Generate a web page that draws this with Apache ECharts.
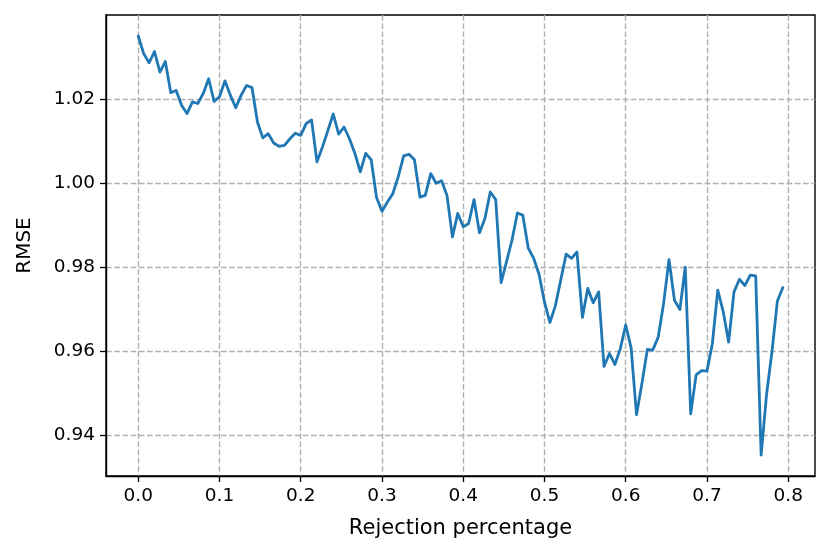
<!DOCTYPE html>
<html><head><meta charset="utf-8">
<script src="https://cdn.jsdelivr.net/npm/echarts@6/dist/echarts.min.js"></script>
<style>html,body{margin:0;padding:0;background:#fff}#c{width:831px;height:556px}</style>
</head><body><div id="c"></div>
<script>
const rejection = [
0.0000,0.0067,0.0133,0.0200,0.0267,0.0333,0.0400,0.0467,0.0533,0.0600,
0.0667,0.0733,0.0800,0.0867,0.0933,0.1000,0.1067,0.1133,0.1200,0.1267,
0.1333,0.1400,0.1467,0.1533,0.1600,0.1667,0.1733,0.1800,0.1867,0.1933,
0.2000,0.2067,0.2133,0.2200,0.2267,0.2333,0.2400,0.2467,0.2533,0.2600,
0.2667,0.2733,0.2800,0.2867,0.2933,0.3000,0.3067,0.3133,0.3200,0.3267,
0.3333,0.3400,0.3467,0.3533,0.3600,0.3667,0.3733,0.3800,0.3867,0.3933,
0.4000,0.4067,0.4133,0.4200,0.4267,0.4333,0.4400,0.4467,0.4533,0.4600,
0.4667,0.4733,0.4800,0.4867,0.4933,0.5000,0.5067,0.5133,0.5200,0.5267,
0.5333,0.5400,0.5467,0.5533,0.5600,0.5667,0.5733,0.5800,0.5867,0.5933,
0.6000,0.6067,0.6133,0.6200,0.6267,0.6333,0.6400,0.6467,0.6533,0.6600,
0.6667,0.6733,0.6800,0.6867,0.6933,0.7000,0.7067,0.7133,0.7200,0.7267,
0.7333,0.7400,0.7467,0.7533,0.7600,0.7667,0.7733,0.7800,0.7867,0.7933
];
const rmse = [
1.0351,1.0309,1.0287,1.0314,1.0265,1.0290,1.0216,1.0221,1.0186,1.0166,
1.0194,1.0190,1.0214,1.0249,1.0195,1.0206,1.0244,1.0210,1.0180,1.0210,
1.0233,1.0228,1.0146,1.0108,1.0118,1.0096,1.0088,1.0090,1.0106,1.0119,
1.0114,1.0142,1.0151,1.0051,1.0086,1.0125,1.0165,1.0117,1.0134,1.0106,
1.0071,1.0027,1.0071,1.0056,0.9966,0.9933,0.9955,0.9975,1.0015,1.0065,
1.0069,1.0056,0.9967,0.9971,1.0023,1.0000,1.0006,0.9971,0.9872,0.9928,
0.9896,0.9904,0.9961,0.9882,0.9916,0.9979,0.9961,0.9763,0.9813,0.9864,
0.9929,0.9924,0.9846,0.9821,0.9783,0.9717,0.9668,0.9707,0.9769,0.9831,
0.9821,0.9836,0.9680,0.9749,0.9715,0.9741,0.9563,0.9594,0.9568,0.9605,
0.9662,0.9607,0.9448,0.9523,0.9604,0.9602,0.9633,0.9714,0.9818,0.9721,
0.9699,0.9800,0.9450,0.9543,0.9553,0.9552,0.9618,0.9745,0.9694,0.9621,
0.9741,0.9771,0.9756,0.9781,0.9779,0.9352,0.9495,0.9598,0.9719,0.9751
];
const xTicks = [0.0,0.1,0.2,0.3,0.4,0.5,0.6,0.7,0.8];
const yTicks = [0.94,0.96,0.98,1.00,1.02];

const data = rejection.map((x,i)=>[x,rmse[i]]);
const font = 'DejaVu Sans';
const chart = echarts.init(document.getElementById('c'), null, {renderer:'canvas'});
chart.setOption({
  animation:false,
  backgroundColor:'#fff',
  grid:{left:106,right:16,top:15,bottom:80,show:true,borderColor:'#000',borderWidth:1.4},
  xAxis:{
    type:'value', min:-0.0397, max:0.833,
    name:'Rejection percentage', nameLocation:'middle', nameGap:42,
    nameTextStyle:{fontFamily:font,fontSize:21,color:'#000'},
    axisLine:{show:true,onZero:false,lineStyle:{color:'#000',width:1.4}},
    axisTick:{show:true,inside:false,length:6,customValues:xTicks,lineStyle:{color:'#000',width:1.3}},
    axisLabel:{customValues:xTicks,fontFamily:font,fontSize:18.5,color:'#000',margin:11,
      formatter:v=>v.toFixed(1)},
    splitLine:{show:true,lineStyle:{color:'#b0b0b0',type:[5.7,2.5],width:1.4}}
  },
  yAxis:{
    type:'value', min:0.9302, max:1.0401,
    name:'RMSE', nameLocation:'middle', nameGap:71, nameRotate:90,
    nameTextStyle:{fontFamily:font,fontSize:20,color:'#000'},
    axisLine:{show:true,onZero:false,lineStyle:{color:'#000',width:1.4}},
    axisTick:{show:true,inside:false,length:6,customValues:yTicks,lineStyle:{color:'#000',width:1.3}},
    axisLabel:{customValues:yTicks,fontFamily:font,fontSize:18.5,color:'#000',margin:11,
      formatter:v=>v.toFixed(2)},
    splitLine:{show:true,lineStyle:{color:'#b0b0b0',type:[5.7,2.5],width:1.4}}
  },
  series:[{
    type:'line', data:data, showSymbol:false, symbol:'none',
    lineStyle:{color:'#1f77b4',width:2.8,join:'round',cap:'round'},
    clip:true
  }]
});
</script></body></html>
